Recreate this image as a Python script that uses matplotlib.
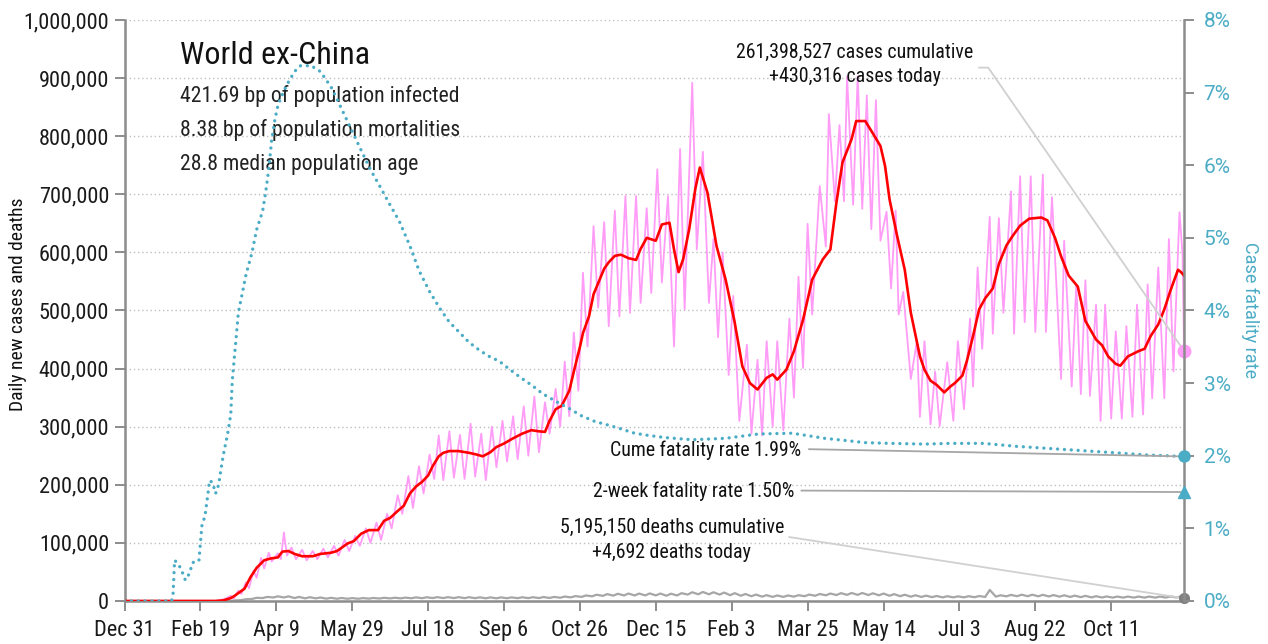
import numpy as np
import pandas as pd
import matplotlib
matplotlib.use('Agg')
import matplotlib.pyplot as plt
from matplotlib import font_manager
from matplotlib.ticker import FuncFormatter, MultipleLocator

start = pd.Timestamp('2019-12-31')
last_day = 698

# 7-day average of new cases (thousands), read at these day offsets
avg_day = [0, 60, 65, 70, 72, 79, 83, 87, 92, 96, 101, 104, 108, 112, 117, 124, 129, 136, 140, 147, 151, 156,
           161, 167, 171, 175, 180, 184, 188, 192, 196, 200, 203, 207, 210, 214, 220, 227, 232, 236, 241, 245,
           250, 256, 262, 268, 273, 277, 280, 284, 288, 293, 296, 300, 302, 306, 309, 312, 316, 319, 323, 327,
           332, 337, 340, 344, 350, 354, 359, 362, 365, 368, 372, 376, 379, 384, 390, 396, 402, 407, 412, 417,
           423, 427, 430, 436, 441, 447, 453, 460, 465, 469, 473, 479, 482, 488, 492, 498, 501, 504, 509, 514,
           518, 524, 527, 531, 535, 540, 544, 547, 552, 555, 559, 563, 567, 572, 576, 581, 585, 590, 596, 604,
           608, 613, 617, 622, 628, 633, 640, 644, 648, 653, 656, 661, 668, 672, 676, 681, 685, 689, 694, 696, 698]
avg_cases_k = [0, 0, 1, 5, 8, 21, 41, 57, 70, 73, 75, 85, 86, 81, 77, 77, 81, 83, 86, 99, 103, 116,
               122, 122, 138, 143, 155, 164, 185, 197, 205, 216, 232, 249, 255, 258, 258, 255, 252, 249, 256, 265,
               271, 280, 288, 294, 292, 291, 310, 330, 336, 362, 395, 437, 461, 490, 528, 547, 572, 583, 594, 596,
               590, 587, 606, 625, 620, 648, 651, 605, 566, 588, 640, 709, 746, 703, 611, 553, 479, 404, 375, 364,
               384, 390, 381, 398, 430, 484, 553, 588, 605, 686, 755, 795, 826, 826, 809, 783, 749, 691, 628, 570,
               496, 421, 398, 379, 372, 359, 369, 375, 388, 414, 456, 502, 521, 538, 580, 612, 628, 646, 658, 660,
               655, 625, 593, 560, 541, 482, 450, 440, 421, 408, 405, 421, 430, 434, 456, 476, 502, 534, 570, 566, 560]

# daily new cases (thousands), weekly highs and lows
daily_day = [0, 60, 63, 66, 70, 72, 75, 77, 80, 82, 85, 87, 90, 92, 95, 97, 101, 103, 105, 107, 110, 113,
             117, 120, 124, 127, 131, 134, 138, 141, 145, 148, 152, 155, 159, 162, 166, 169, 173, 176, 180, 183,
             187, 190, 194, 197, 201, 204, 207, 210, 214, 217, 221, 224, 228, 231, 235, 238, 242, 245, 249, 252,
             256, 259, 263, 266, 270, 273, 277, 280, 284, 287, 290, 293, 296, 299, 302, 305, 309, 312, 316, 319,
             323, 326, 330, 333, 337, 340, 344, 347, 351, 354, 358, 362, 366, 369, 374, 377, 381, 385, 388, 391,
             394, 398, 401, 405, 410, 413, 417, 420, 423, 427, 430, 434, 438, 441, 444, 447, 450, 453, 458, 462,
             464, 468, 471, 474, 476, 480, 483, 486, 489, 492, 495, 498, 502, 505, 508, 510, 513, 518, 522, 524,
             527, 531, 534, 537, 542, 546, 549, 553, 557, 559, 562, 565, 570, 572, 576, 579, 584, 586, 590, 593,
             597, 600, 605, 607, 611, 617, 619, 624, 627, 630, 633, 636, 640, 643, 646, 650, 653, 657, 660, 664,
             667, 671, 674, 677, 681, 685, 688, 691, 695, 697, 698]
daily_cases_k = [0, 0, 2, 3, 9, 4, 18, 12, 32, 22, 52, 40, 74, 56, 83, 68, 82, 72, 118, 78, 92, 72,
                 88, 70, 86, 72, 90, 75, 95, 78, 105, 86, 112, 95, 125, 100, 135, 105, 150, 125, 182, 150,
                 215, 160, 232, 185, 252, 210, 285, 208, 292, 212, 286, 210, 305, 214, 288, 208, 300, 230, 310, 240,
                 318, 244, 335, 250, 352, 256, 342, 288, 365, 300, 412, 318, 462, 362, 565, 438, 645, 505, 652, 473,
                 672, 490, 697, 496, 697, 513, 676, 530, 743, 548, 697, 438, 778, 502, 892, 605, 773, 513, 623, 454,
                 600, 389, 525, 310, 441, 288, 415, 285, 447, 300, 447, 294, 486, 350, 558, 401, 649, 493, 714, 610,
                 838, 688, 819, 688, 903, 682, 903, 675, 870, 640, 862, 620, 670, 538, 672, 493, 532, 382, 447, 317,
                 447, 304, 395, 301, 411, 310, 447, 330, 486, 369, 574, 434, 661, 460, 659, 496, 705, 460, 731, 480,
                 731, 463, 734, 463, 695, 382, 620, 369, 545, 356, 552, 353, 510, 310, 510, 314, 464, 314, 473, 317,
                 510, 321, 545, 349, 574, 349, 623, 395, 669, 597, 430]

# daily deaths (thousands), weekly trough (day 7i) and peak (day 7i+3)
death_trough_k = [0, 0, 0, 0, 0, 0, 0, 0, 0, 0,
                  0.3, 1.5, 3.5, 5.0, 6.0, 6.0, 5.0, 4.5, 4.5, 4.0,
                  3.8, 3.8, 3.8, 4.0, 4.2, 4.4, 4.5, 4.7, 4.8, 5.0,
                  5.0, 5.0, 4.9, 4.8, 4.6, 4.6, 4.7, 4.8, 4.9, 5.0,
                  5.2, 5.6, 6.2, 7.0, 8.0, 8.8, 9.2, 9.5, 9.5, 9.6,
                  9.6, 9.0, 9.5, 11.0, 11.5, 11.5, 11.0, 10.0, 9.0, 8.2,
                  7.5, 7.0, 7.0, 7.5, 8.2, 9.0, 9.8, 10.2, 10.5, 10.5,
                  10.2, 9.8, 9.0, 8.2, 7.4, 7.0, 6.6, 6.2, 6.2, 6.2,
                  6.5, 7.0, 7.5, 8.0, 8.2, 8.2, 8.0, 7.8, 7.4, 7.0,
                  6.6, 6.2, 6.0, 5.8, 5.8, 5.8, 5.8, 5.8, 5.9, 6.0]
death_peak_k = [0, 0, 0, 0, 0, 0, 0, 0, 0, 0.3,
                1.0, 3.0, 5.5, 7.0, 8.0, 8.0, 7.0, 6.5, 6.0, 5.5,
                5.2, 5.0, 5.0, 5.2, 5.5, 5.6, 5.8, 6.2, 6.4, 6.6,
                6.6, 6.6, 6.5, 6.3, 6.2, 6.2, 6.2, 6.4, 6.5, 6.8,
                7.0, 7.6, 8.4, 9.5, 10.8, 11.8, 12.4, 12.8, 12.8, 13.0,
                12.8, 12.5, 13.5, 15.0, 15.5, 15.0, 14.5, 13.5, 12.0, 11.0,
                10.0, 9.5, 9.5, 10.0, 11.0, 12.0, 12.8, 13.5, 13.8, 13.8,
                13.2, 12.8, 11.8, 10.8, 9.8, 9.2, 8.6, 8.2, 8.0, 8.2,
                8.5, 19.0, 9.8, 10.5, 10.8, 10.8, 10.6, 10.2, 9.8, 9.2,
                8.8, 8.2, 7.8, 7.6, 7.6, 7.6, 7.6, 7.6, 7.8, 7.9]

# cumulative case fatality rate (%)
cfr_day = [0, 31, 32, 33, 35, 37, 38, 40, 41, 43, 45, 49, 51, 53, 55, 56, 58, 60, 62, 63, 65, 68, 70, 71,
           73, 75, 78, 80, 84, 87, 91, 93, 95, 97, 99, 101, 103, 107, 112, 116, 123, 129, 136, 142, 149, 156,
           162, 169, 175, 181, 188, 194, 201, 208, 214, 221, 227, 234, 240, 247, 253, 262, 269, 275, 284, 293,
           301, 310, 319, 327, 336, 345, 356, 374, 396, 407, 418, 440, 461, 475, 488, 505, 527, 544, 566, 587,
           609, 631, 653, 674, 698]
cfr_pct = [0, 0, 0.1, 0.56, 0.52, 0.45, 0.4, 0.29, 0.3, 0.4, 0.53, 0.55, 1.04, 1.17, 1.48, 1.66, 1.63, 1.48, 1.6,
           1.74, 2.0, 2.31, 2.57, 3.04, 3.5, 3.97, 4.28, 4.49, 4.8, 5.11, 5.37, 5.63, 5.94, 6.36, 6.62, 6.82,
           6.93, 7.11, 7.29, 7.37, 7.37, 7.29, 7.08, 6.82, 6.51, 6.2, 5.94, 5.68, 5.45, 5.23, 4.89, 4.55, 4.26,
           4.02, 3.84, 3.69, 3.56, 3.45, 3.37, 3.30, 3.2, 3.06, 2.96, 2.86, 2.75, 2.65, 2.55, 2.47, 2.42, 2.37,
           2.31, 2.28, 2.25, 2.22, 2.24, 2.27, 2.30, 2.31, 2.24, 2.21, 2.18, 2.17, 2.16, 2.17, 2.17, 2.13,
           2.10, 2.07, 2.04, 2.01, 1.99]

cases_today = 430316
cases_cum = 261398527
deaths_today = 4692
deaths_cum = 5195150
cfr_cume = 1.99
cfr_2wk = 1.50

stats = ['421.69 bp of population infected',
         '8.38 bp of population mortalities',
         '28.8 median population age']

pink = '#FF9CF7'
red = '#FF0000'
teal = '#4BACC6'
grey = '#A6A6A6'
spine = '#8C8C8C'

# pick the narrowest sans that is installed
installed = {f.name for f in font_manager.fontManager.ttflist}
narrow = 'Liberation Sans'
for name in ['Roboto Condensed', 'Liberation Sans Narrow', 'Open Sans Condensed', 'Noto Sans Condensed']:
    if name in installed:
        narrow = name
        break
k = 1.0 if narrow != 'Liberation Sans' else 0.88
cond = [narrow, 'DejaVu Sans']
plain = ['Roboto', 'DejaVu Sans']
fs_tick = 16 * k
fs_stats = 15.7 * k
fs_note = 14.3 * k
fs_title = 23 * k

death_day = []
death_k = []
for i in range(len(death_trough_k)):
    death_day += [7 * i, 7 * i + 3]
    death_k += [death_trough_k[i], death_peak_k[i]]
death_day.append(last_day)
death_k.append(deaths_today / 1000)

fig = plt.figure(figsize=(12.68, 6.44), dpi=100)
ax = fig.add_axes([0.0982, 0.0668, 0.8356, 0.9022])
ax2 = ax.twinx()

ax.plot(death_day, np.array(death_k) * 1000, color=grey, lw=1.6, zorder=2)
ax.plot(daily_day, np.array(daily_cases_k) * 1000, color=pink, lw=1.3, zorder=3)
ax.plot(avg_day, np.array(avg_cases_k) * 1000, color=red, lw=1.9, zorder=4)
ax2.plot(cfr_day, np.array(cfr_pct) / 100, color=teal, lw=2.4, linestyle=(0, (0.01, 2.05)),
         dash_capstyle='round', zorder=3)

# end markers
ax.plot([last_day], [cases_today], 'o', color=pink, ms=9, clip_on=False, zorder=6)
ax.plot([last_day], [deaths_today], 'o', color='#808080', ms=7, clip_on=False, zorder=6)
ax2.plot([last_day], [cfr_cume / 100], 'o', color=teal, ms=8, clip_on=False, zorder=6)
ax2.plot([last_day], [cfr_2wk / 100], '^', color=teal, ms=9, clip_on=False, zorder=6)

ax.set_xlim(0, last_day)
ax.set_ylim(0, 1000000)
ax2.set_ylim(0, 0.08)

ax.yaxis.set_major_locator(MultipleLocator(100000))
ax.yaxis.set_major_formatter(FuncFormatter(lambda v, p: '{:,.0f}'.format(v)))
ax2.yaxis.set_major_locator(MultipleLocator(0.01))
ax2.yaxis.set_major_formatter(FuncFormatter(lambda v, p: '{:.0f}%'.format(v * 100)))

xticks = list(range(0, last_day, 50))
ax.set_xticks(xticks)
ax.set_xticklabels(['{} {}'.format((start + pd.Timedelta(days=d)).strftime('%b'), (start + pd.Timedelta(days=d)).day)
                    for d in xticks])

ax.grid(axis='y', linestyle=(0, (1, 2)), color='#BFBFBF', lw=1)
ax.set_axisbelow(True)

for s in ['top', 'right']:
    ax.spines[s].set_visible(False)
for s in ['top', 'left', 'bottom']:
    ax2.spines[s].set_visible(False)
for s in ['left', 'bottom']:
    ax.spines[s].set_color(spine)
    ax.spines[s].set_linewidth(1.8)
ax2.spines['right'].set_color(spine)
ax2.spines['right'].set_linewidth(1.8)

ax.tick_params(axis='both', direction='out', length=7, width=1.4, color=spine, labelsize=fs_tick, pad=4)
ax.tick_params(axis='x', pad=7)
ax2.tick_params(axis='y', direction='out', length=7, width=1.4, color=spine, labelsize=15,
                labelcolor=teal, pad=7)
for lab in ax.get_xticklabels() + ax.get_yticklabels():
    lab.set_family(cond)
    lab.set_color('#1A1A1A')
for lab in ax2.get_yticklabels():
    lab.set_family(plain)

ax.set_ylabel('Daily new cases and deaths', family=cond, fontsize=14 * k, color='#111111', va='center')
ax.yaxis.set_label_coords(-0.1005, 0.51)
ax2.set_ylabel('Case fatality rate', family=plain, fontsize=13, color=teal, rotation=270, va='center')
ax2.yaxis.set_label_coords(1.0623, 0.5)

# header text
ax.text(36.5, 938000, 'World ex-China', family=cond, fontsize=fs_title, color='#111111', va='center', zorder=1)
for i, s in enumerate(stats):
    ax.text(36.5, 869000 - i * 58500, s, family=cond, fontsize=fs_stats, color='#222222', va='center', zorder=1)

# annotations with leader lines
ax.text(481, 945000, '{:,} cases cumulative'.format(cases_cum), family=cond, fontsize=fs_note,
        ha='center', va='center', color='#111111', zorder=7)
ax.text(481, 902000, '+{:,} cases today'.format(cases_today), family=cond, fontsize=fs_note,
        ha='center', va='center', color='#111111', zorder=7)
ax.plot([563, 569, last_day], [918000, 918000, cases_today], color='#D0D0D0', lw=1.3, zorder=5, clip_on=False)

ax.text(446, 260000, 'Cume fatality rate {:.2f}%'.format(cfr_cume), family=cond, fontsize=fs_note,
        ha='right', va='center', color='#111111', zorder=7)
ax2.plot([451, last_day], [0.0209, cfr_cume / 100], color='#A6A6A6', lw=1.3, zorder=5)

ax.text(441.5, 188000, '2-week fatality rate {:.2f}%'.format(cfr_2wk), family=cond, fontsize=fs_note,
        ha='right', va='center', color='#111111', zorder=7)
ax2.plot([446, last_day], [0.0152, cfr_2wk / 100], color='#A6A6A6', lw=1.3, zorder=5)

ax.text(360.5, 126000, '{:,} deaths cumulative'.format(deaths_cum), family=cond, fontsize=fs_note,
        ha='center', va='center', color='#111111', zorder=7)
ax.text(360.5, 83000, '+{:,} deaths today'.format(deaths_today), family=cond, fontsize=fs_note,
        ha='center', va='center', color='#111111', zorder=7)
ax.plot([438, last_day], [110000, deaths_today], color='#D0D0D0', lw=1.3, zorder=5)

fig.savefig('out.png', dpi=100)
